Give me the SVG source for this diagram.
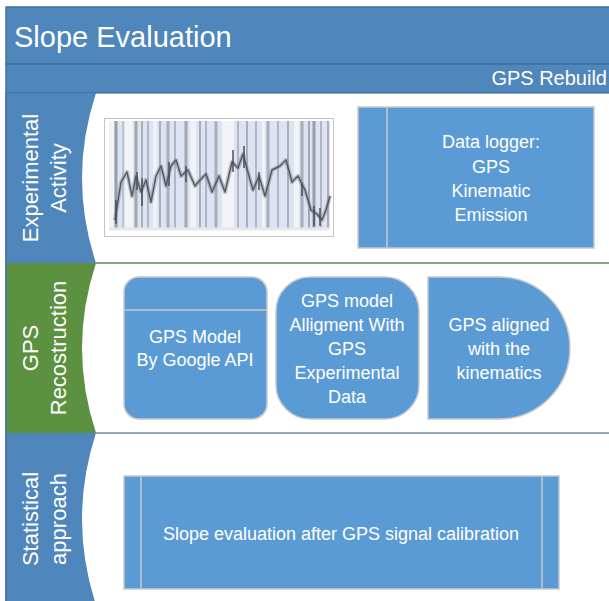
<svg xmlns="http://www.w3.org/2000/svg" width="609" height="601" viewBox="0 0 609 601">
<style>
  .hdr { fill: #4F86BC; stroke: #41719C; stroke-width: 1.5; }
  .lane-blue { fill: #4F86BC; }
  .lane-green { fill: #5B9140; }
  .t { font-family: "Liberation Sans", Arial, sans-serif; fill: #FFFFFF; }
  .lab { font-size: 22px; }
  .node { fill: #5B9BD5; stroke: #C9C9C9; stroke-width: 1.5; }
  .nt { font-size: 18px; text-anchor: middle; }
  .inner { stroke: #C9C9C9; stroke-width: 1.5; fill: none; }
  .stripe { stroke: #8F939B; }
  .spike { stroke: #4A4F57; stroke-width: 2; opacity: 0.75; }
</style>
<rect width="609" height="601" fill="#FFFFFF"/>

<g id="header">
  <rect class="hdr" x="6" y="7" width="610" height="57"/>
  <text class="t" x="14" y="47" font-size="29">Slope Evaluation</text>
  <rect class="hdr" x="6" y="64" width="610" height="29"/>
  <text class="t" x="607" y="85" font-size="20" text-anchor="end">GPS Rebuild</text>
</g>

<g id="lanes">
  <rect x="6" y="93" width="610" height="515" fill="#FFFFFF" stroke="#41719C" stroke-width="1.2"/>
  <line x1="96" y1="263" x2="616" y2="263" stroke="#5E8E47" stroke-width="1.5"/>
  <line x1="96" y1="433" x2="616" y2="433" stroke="#6C8CAC" stroke-width="1.5"/>
  <g id="lane1">
    <path class="lane-blue" d="M6,93 H96 Q68,178 96,263 H6 Z"/>
    <g transform="translate(0,178) rotate(-90)">
      <text class="t lab" x="0" y="38" text-anchor="middle">Experimental</text>
      <text class="t lab" x="0" y="66" text-anchor="middle">Activity</text>
    </g>
  </g>
  <g id="lane2">
    <path class="lane-green" d="M6,263 H96 Q68,348 96,433 H6 Z"/>
    <g transform="translate(0,348) rotate(-90)">
      <text class="t lab" x="0" y="38" text-anchor="middle">GPS</text>
      <text class="t lab" x="0" y="66" text-anchor="middle">Recostruction</text>
    </g>
  </g>
  <g id="lane3">
    <path class="lane-blue" d="M6,433 H96 Q68,519 96,605 H6 Z"/>
    <g transform="translate(0,519) rotate(-90)">
      <text class="t lab" x="0" y="38" text-anchor="middle">Statistical</text>
      <text class="t lab" x="0" y="66" text-anchor="middle">approach</text>
    </g>
  </g>
  <line x1="6" y1="93" x2="6" y2="601" stroke="#41719C" stroke-width="1.5"/>
</g>

<g id="chart">
  <rect x="104.5" y="118.5" width="229" height="118" fill="#FFFFFF" stroke="#C4C4C4" stroke-width="1"/>
  <rect x="109" y="121" width="221" height="108" fill="#DCE3F2"/>
  <g fill="#F2F3F8">
    <rect x="109" y="121" width="5" height="108"/>
    <rect x="125" y="121" width="8" height="108"/>
    <rect x="153" y="121" width="4" height="108"/>
    <rect x="190" y="121" width="6" height="108"/>
    <rect x="222" y="121" width="12" height="108"/>
    <rect x="262" y="121" width="3" height="108"/>
    <rect x="294" y="121" width="5" height="108"/>
  </g>
  <g class="stripe">
    <line x1="116" y1="121" x2="116" y2="229" stroke-width="3" opacity="0.85"/>
    <line x1="123" y1="121" x2="123" y2="229" stroke-width="1.5" opacity="0.5"/>
    <line x1="136" y1="121" x2="136" y2="229" stroke-width="3" opacity="0.75"/>
    <line x1="142" y1="121" x2="142" y2="229" stroke-width="2" opacity="0.65"/>
    <line x1="148" y1="121" x2="148" y2="229" stroke-width="2" opacity="0.55"/>
    <line x1="160" y1="121" x2="160" y2="229" stroke-width="2" opacity="0.65"/>
    <line x1="168" y1="121" x2="168" y2="229" stroke-width="3" opacity="0.65"/>
    <line x1="175" y1="121" x2="175" y2="229" stroke-width="2" opacity="0.55"/>
    <line x1="186" y1="121" x2="186" y2="229" stroke-width="3" opacity="0.75"/>
    <line x1="200" y1="121" x2="200" y2="229" stroke-width="2" opacity="0.65"/>
    <line x1="206" y1="121" x2="206" y2="229" stroke-width="2" opacity="0.55"/>
    <line x1="216" y1="121" x2="216" y2="229" stroke-width="3" opacity="0.65"/>
    <line x1="238" y1="121" x2="238" y2="229" stroke-width="2" opacity="0.55"/>
    <line x1="247" y1="121" x2="247" y2="229" stroke-width="2" opacity="0.65"/>
    <line x1="256" y1="121" x2="256" y2="229" stroke-width="2" opacity="0.55"/>
    <line x1="268" y1="121" x2="268" y2="229" stroke-width="3" opacity="0.65"/>
    <line x1="278" y1="121" x2="278" y2="229" stroke-width="2" opacity="0.55"/>
    <line x1="288" y1="121" x2="288" y2="229" stroke-width="2" opacity="0.65"/>
    <line x1="302" y1="121" x2="302" y2="229" stroke-width="3" opacity="0.65"/>
    <line x1="309" y1="121" x2="309" y2="229" stroke-width="2" opacity="0.75"/>
    <line x1="314" y1="121" x2="314" y2="229" stroke-width="3" opacity="0.85"/>
    <line x1="321" y1="121" x2="321" y2="229" stroke-width="2" opacity="0.55"/>
    <line x1="328" y1="121" x2="328" y2="229" stroke-width="2" opacity="0.65"/>
  </g>
  <polyline fill="none" stroke="#8C9099" stroke-width="4" opacity="0.55" stroke-linejoin="round"
    points="115,220 121,182 127,172 132,196 136,176 141,192 146,180 151,202 156,176 161,166 166,186 171,166 176,160 181,176 188,170 195,186 200,180 206,174 212,192 219,176 225,192 232,162 238,168 243,154 249,176 253,190 259,176 265,196 272,170 280,166 286,160 292,182 298,176 305,190 311,210 317,214 322,220 326,210 330,196"/>
  <polyline fill="none" stroke="#3E434B" stroke-width="1.4" opacity="0.8" stroke-linejoin="round"
    points="115,220 121,182 127,172 132,196 136,176 141,192 146,180 151,202 156,176 161,166 166,186 171,166 176,160 181,176 188,170 195,186 200,180 206,174 212,192 219,176 225,192 232,162 238,168 243,154 249,176 253,190 259,176 265,196 272,170 280,166 286,160 292,182 298,176 305,190 311,210 317,214 322,220 326,210 330,196"/>
  <g>
    <line class="spike" x1="116" y1="200" x2="116" y2="224"/>
    <line class="spike" x1="137" y1="172" x2="137" y2="190"/>
    <line class="spike" x1="142" y1="178" x2="142" y2="206"/>
    <line class="spike" x1="169" y1="162" x2="169" y2="186"/>
    <line class="spike" x1="186" y1="166" x2="186" y2="182"/>
    <line class="spike" x1="233" y1="150" x2="233" y2="172"/>
    <line class="spike" x1="244" y1="146" x2="244" y2="168"/>
    <line class="spike" x1="259" y1="172" x2="259" y2="190"/>
    <line class="spike" x1="302" y1="184" x2="302" y2="196"/>
    <line class="spike" x1="314" y1="206" x2="314" y2="226"/>
    <line class="spike" x1="320" y1="208" x2="320" y2="226"/>
  </g>
  <line x1="109" y1="229" x2="330" y2="229" stroke="#E6E8EE" stroke-width="3"/>
</g>

<g id="data-logger">
  <rect class="node" x="358" y="107" width="236" height="141"/>
  <line class="inner" x1="387" y1="107" x2="387" y2="248"/>
  <text class="t nt" x="491" y="148">Data logger:</text>
  <text class="t nt" x="491" y="173">GPS</text>
  <text class="t nt" x="491" y="197">Kinematic</text>
  <text class="t nt" x="491" y="221">Emission</text>
</g>

<g id="gps-model">
  <rect class="node" x="124" y="277" width="143" height="142" rx="15" ry="15"/>
  <line class="inner" x1="124" y1="310" x2="267" y2="310"/>
  <text class="t nt" x="195" y="343">GPS Model</text>
  <text class="t nt" x="195" y="366">By Google API</text>
</g>

<g id="gps-alignment">
  <rect class="node" x="276" y="277" width="143" height="142" rx="34" ry="34"/>
  <text class="t nt" x="347" y="307">GPS model</text>
  <text class="t nt" x="347" y="331">Alligment With</text>
  <text class="t nt" x="347" y="355">GPS</text>
  <text class="t nt" x="347" y="379">Experimental</text>
  <text class="t nt" x="347" y="403">Data</text>
</g>

<g id="gps-aligned">
  <path class="node" d="M428,277 H499 A71,71 0 0 1 499,419 H428 Z"/>
  <text class="t nt" x="499" y="331">GPS aligned</text>
  <text class="t nt" x="499" y="355">with the</text>
  <text class="t nt" x="499" y="379">kinematics</text>
</g>

<g id="slope-evaluation">
  <rect class="node" x="124" y="476" width="435" height="113"/>
  <line class="inner" x1="141" y1="476" x2="141" y2="589"/>
  <line class="inner" x1="542" y1="476" x2="542" y2="589"/>
  <text class="t nt" x="341" y="540">Slope evaluation after GPS signal calibration</text>
</g>

<g id="connectors"></g>
</svg>
